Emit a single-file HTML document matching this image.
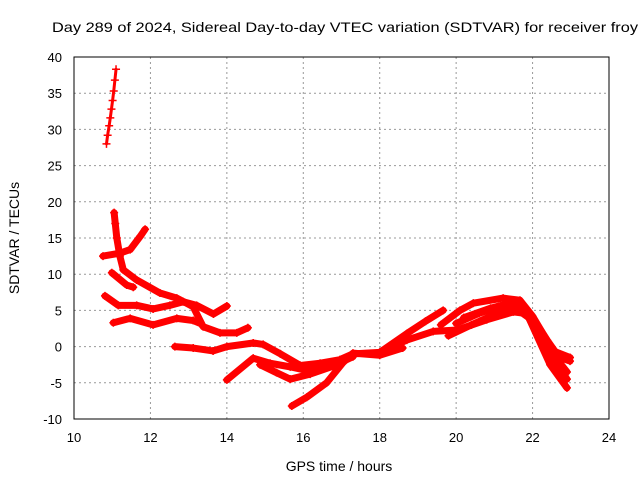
<!DOCTYPE html>
<html><head><meta charset="utf-8"><style>
html,body{margin:0;padding:0;background:#fff}
svg{display:block;font-family:"Liberation Sans",sans-serif}
</style></head><body>
<svg id="chart" width="640" height="480" viewBox="0 0 640 480">
<text x="52" y="32" font-size="14" textLength="586" lengthAdjust="spacingAndGlyphs" fill="#000">Day 289 of 2024, Sidereal Day-to-day VTEC variation (SDTVAR) for receiver froy</text>
<text x="339" y="471" font-size="14" text-anchor="middle" fill="#000">GPS time / hours</text>
<text transform="translate(19,238) rotate(-90)" font-size="14" text-anchor="middle" fill="#000">SDTVAR / TECUs</text>
<g id="grid"></g>
<g id="ticks"></g>
<g id="series"></g>
<rect x="74" y="57" width="535" height="362" fill="none" stroke="#000" stroke-width="1"/>
</svg>
<script>
const xTicks = [10,12,14,16,18,20,22,24];
const yTicks = [-10,-5,0,5,10,15,20,25,30,35,40];
const arcSteep = [[10.85,28],[10.88,29.2],[10.92,30.5],[10.95,31.6],[10.98,32.8],[11.01,34],[11.04,35.3],[11.07,36.8],[11.1,38.3]];
const arcRise = [[10.76,12.5],[11.2,12.9],[11.47,13.4],[11.73,15.2],[11.86,16.2]];
const arcFall = [[11.05,18.5],[11.08,17],[11.12,15],[11.2,12.5],[11.29,10.6],[11.64,9.2],[12.25,7.4],[12.69,6.7],[13.12,5.5],[13.38,2.75],[13.82,1.9],[14.26,1.9],[14.55,2.6]];
const arcShort = [[10.99,10.2],[11.38,8.5],[11.55,8.2]];
const arcMid = [[10.81,7.0],[11.16,5.7],[11.64,5.7],[12.07,5.2],[12.51,5.7],[12.86,6.2],[13.21,5.7],[13.65,4.5],[14.0,5.6]];
const arcLow = [[11.03,3.3],[11.47,3.9],[12.07,3.0],[12.69,3.9],[13.12,3.6],[13.3,3.2]];
const arcMain = [[12.64,0.0],[13.12,-0.2],[13.64,-0.6],[14.0,0.0],[14.69,0.5],[14.95,0.3],[15.4,-1.0],[15.92,-2.6],[16.44,-2.3],[16.96,-1.8],[17.3,-1.0],[18.0,-0.8],[18.71,0.9],[19.4,2.1],[20.03,2.3],[20.8,3.7],[21.5,4.8],[21.94,4.5],[22.38,0.9],[22.7,-1.5],[22.98,-2.0]];
const arcDip = [[14.0,-4.6],[14.69,-1.6],[15.13,-2.3],[15.66,-2.8],[16.18,-3.4],[16.78,-2.7]];
const arcDip2 = [[14.87,-2.5],[15.3,-3.6],[15.66,-4.5],[16.18,-3.8],[16.78,-2.7],[17.3,-1.4]];
const arcRiseLate = [[15.7,-8.2],[16.09,-7.0],[16.61,-5.0],[17.04,-2.2],[17.3,-0.9],[18.0,-1.2],[18.6,-0.2]];
const arcUpper = [[18.0,-0.8],[18.71,1.8],[19.2,3.5],[19.66,5.0]];
const arcTop = [[19.6,3.0],[20.1,5.0],[20.45,6.0],[21.23,6.7],[21.67,6.4],[22.0,4.2],[22.54,-0.6],[22.98,-1.5]];
const arcBottom = [[19.8,1.5],[20.4,3.0],[21.0,4.4],[21.5,5.5],[21.9,4.0],[22.46,-2.5],[22.9,-5.7]];
const arcInner = [[20.2,4.0],[20.9,5.3],[21.4,6.0],[21.8,5.0],[22.3,0.5],[22.9,-3.5]];
const arcInner2 = [[20.0,3.2],[20.6,4.6],[21.2,5.6],[21.7,5.6],[22.2,1.5],[22.9,-4.5]];
const allSeries = [arcSteep,arcRise,arcFall,arcShort,arcMid,arcLow,arcMain,arcDip,arcDip2,arcRiseLate,arcUpper,arcTop,arcBottom,arcInner,arcInner2];

const X0=74,X1=609,Y0=419,Y1=57;
function xs(v){return X0+(v-10)/14*(X1-X0);}
function ys(v){return Y0-(v+10)/50*(Y0-Y1);}
const NS="http://www.w3.org/2000/svg";
const grid=document.getElementById('grid'),ticks=document.getElementById('ticks'),ser=document.getElementById('series');
function mk(tag,at,parent){const e=document.createElementNS(NS,tag);for(const k in at)e.setAttribute(k,at[k]);parent.appendChild(e);return e;}
xTicks.forEach(t=>{
  const x=xs(t);
  if(t>10&&t<24){const g=mk('line',{x1:x,x2:x,y1:Y1,y2:Y0,stroke:'#999','stroke-dasharray':'2,3'},grid);
  
  }
  const l=mk('text',{x:x,y:442,'font-size':13,'text-anchor':'middle',fill:'#000'},ticks);
  l.textContent=t;
  
  
});
yTicks.forEach(t=>{
  const y=ys(t);
  if(t>-10&&t<40){const g=mk('line',{x1:X0,x2:X1,y1:y,y2:y,stroke:'#999','stroke-dasharray':'2,3'},grid);
  
  }
  const l=mk('text',{x:62,y:y+5,'font-size':13,'text-anchor':'end',fill:'#000'},ticks);
  l.textContent=t;
  
  
});
allSeries.forEach((s,i)=>{
  const thin = i===0;
  const p=mk('polyline',{points:s.map(d=>xs(d[0])+','+ys(d[1])).join(' '),fill:'none',stroke:'#f00','stroke-width':thin?3:7,'stroke-linejoin':'round','stroke-linecap':'round'},ser);
  
  
  s.forEach(d=>{
    const x=xs(d[0]),y=ys(d[1]);
    const m=mk('path',{d:`M${x-4},${y}h8M${x},${y-4}v8`,stroke:'#f00','stroke-width':1.5},ser);
    
    
  });
});
</script>
</body></html>
